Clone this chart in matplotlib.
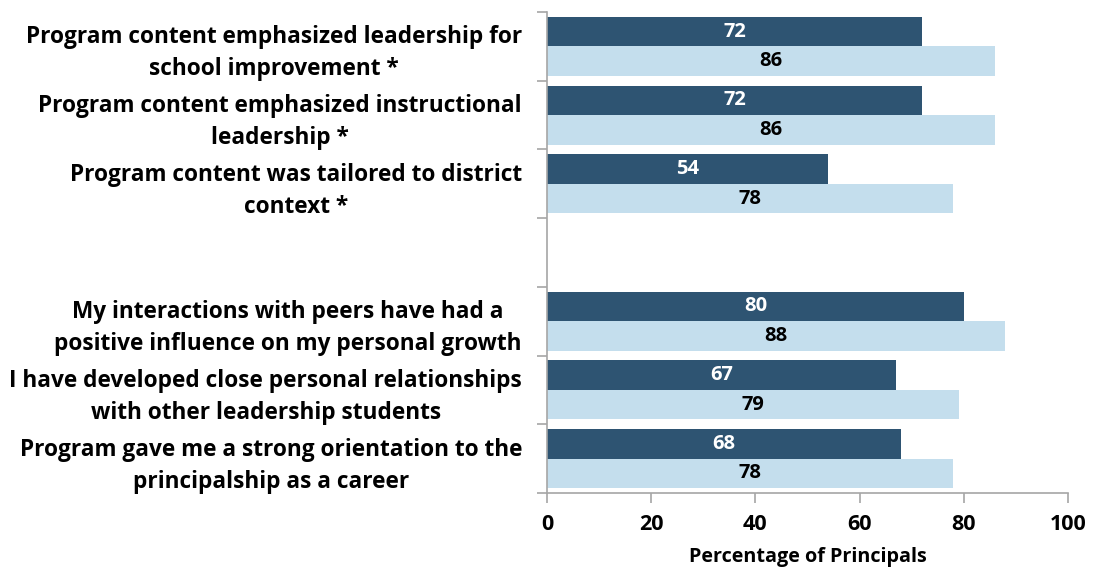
import matplotlib
matplotlib.use("Agg")
import matplotlib.pyplot as plt
import numpy as np

plt.rcParams['font.family'] = ['Open Sans', 'DejaVu Sans']

group1 = ["Program content emphasized leadership for\nschool improvement *",
          "Program content emphasized instructional\nleadership *",
          "Program content was tailored to district\ncontext *"]
group1_dark = [72, 72, 54]
group1_light = [86, 86, 78]

group2 = ["My interactions with peers have had a\npositive influence on my personal growth",
          "I have developed close personal relationships\nwith other leadership students",
          "Program gave me a strong orientation to the\nprincipalship as a career"]
group2_dark = [80, 67, 68]
group2_light = [88, 79, 78]

xticks = [0, 20, 40, 60, 80, 100]
xlabel = "Percentage of Principals"

dark_c = "#2E5472"
light_c = "#C4DEED"
grey = "#A6A6A6"

labels = group1 + group2
dark = group1_dark + group2_dark
light = group1_light + group2_light
pos = list(range(len(group1))) + [len(group1) + 1 + i for i in range(len(group2))]
nslots = len(group1) + len(group2) + 1

fig = plt.figure(figsize=(10.93, 5.69), dpi=100)
ax = fig.add_axes([547/1093, 1 - 493/569, (1068-547)/1093, (493-12)/569])

h = 0.43
pos = np.array(pos, dtype=float)
ax.barh(pos - h/2, dark, height=h, color=dark_c, edgecolor='none')
ax.barh(pos + h/2, light, height=h, color=light_c, edgecolor='none')

for p, d, l in zip(pos, dark, light):
    ax.text(d/2, p - h/2, f"{d}", ha='center', va='center', color='white',
            fontsize=14.5, fontweight='bold')
    ax.text(l/2, p + h/2, f"{l}", ha='center', va='center', color='black',
            fontsize=14.5, fontweight='bold')

ax.set_xlim(0, 100)
ax.set_ylim(nslots - 0.5, -0.5)
ax.set_xticks(xticks)
ax.set_xticklabels([str(t) for t in xticks], fontsize=15.5, fontweight='bold')
ax.set_yticks(pos)
ax.set_yticklabels(labels, fontsize=16.3, fontweight='bold', multialignment='center',
                   linespacing=1.45)
ax.tick_params(axis='y', which='major', length=0, pad=18)
ax.set_yticks(np.arange(-0.5, nslots, 1.0), minor=True)
ax.tick_params(axis='y', which='minor', length=7, color=grey, width=1.2)
ax.tick_params(axis='x', which='major', length=7, color=grey, width=1.2, pad=8)
ax.set_xlabel(xlabel, fontsize=14.2, fontweight='bold', labelpad=8.5)

for s in ['top', 'right']:
    ax.spines[s].set_visible(False)
for s in ['left', 'bottom']:
    ax.spines[s].set_color(grey)
    ax.spines[s].set_linewidth(1.2)

fig.savefig("out.png", dpi=100)
